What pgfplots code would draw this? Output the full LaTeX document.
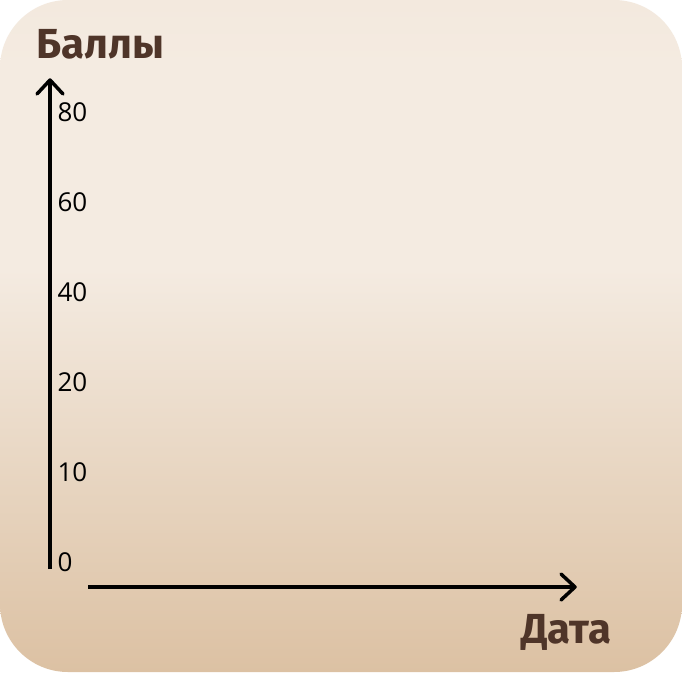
\documentclass[border=0pt]{standalone}
\usepackage{fontspec}
\usepackage{pgfplots}
\pgfplotsset{compat=1.18}
\setmainfont{Open Sans}
\newfontfamily\titlefont{Fira Sans}[UprightFont=* Bold]
\newfontfamily\tickfont{Open Sans}
\definecolor{bgtop}{HTML}{F3E9DE}
\definecolor{bgmid}{HTML}{F4EBE1}
\definecolor{bgbot}{HTML}{DCC1A3}
\definecolor{titlebrown}{HTML}{4F3529}
\pgfdeclareverticalshading{bgshade}{100bp}{color(0bp)=(bgbot); color(25bp)=(bgbot); color(55bp)=(bgmid); color(70bp)=(bgmid); color(75bp)=(bgtop); color(100bp)=(bgtop)}
\begin{document}
\begin{tikzpicture}[x=1pt,y=1pt]
\path[use as bounding box] (0,0) rectangle (682,-672);
\fill[white] (0,0) rectangle (682,-672);
\shade[shading=bgshade, rounded corners=68pt] (0,0) rectangle (682,-672);
\begin{axis}[
  at={(50pt,-587pt)}, anchor=south west,
  scale only axis, width=525pt, height=507pt,
  xmin=0, xmax=1,
  ymin=-0.2778, ymax=5.3556,
  axis line style={draw=none},
  xtick=\empty,
  ytick={0,1,2,3,4,5},
  yticklabels={0,10,20,40,60,80},
  major tick length=0pt,
  /pgf/number format/assume math mode=true,
  yticklabel style={anchor=west, xshift=4pt, font=\tickfont\fontsize{26}{26}\selectfont, text=black},
  clip=false,
]
\addplot[draw=none] coordinates {(0,0) (1,5)};
\end{axis}
\draw[line width=3.5pt] (50,-569) -- (50,-80);
\draw[line width=3.5pt, line cap=round, line join=round] (37,-94) -- (50,-80) -- (63,-94);
\draw[line width=3.5pt] (88,-587) -- (574,-587);
\draw[line width=3.5pt, line cap=round, line join=round] (561,-574) -- (575,-587) -- (561,-600);
\node[anchor=base west, inner sep=0, text=titlebrown, font=\titlefont\fontsize{42}{42}\selectfont] at (36,-58) {Баллы};
\node[anchor=base west, inner sep=0, text=titlebrown, font=\titlefont\fontsize{42}{42}\selectfont] at (521,-643) {Дата};
\end{tikzpicture}
\end{document}
